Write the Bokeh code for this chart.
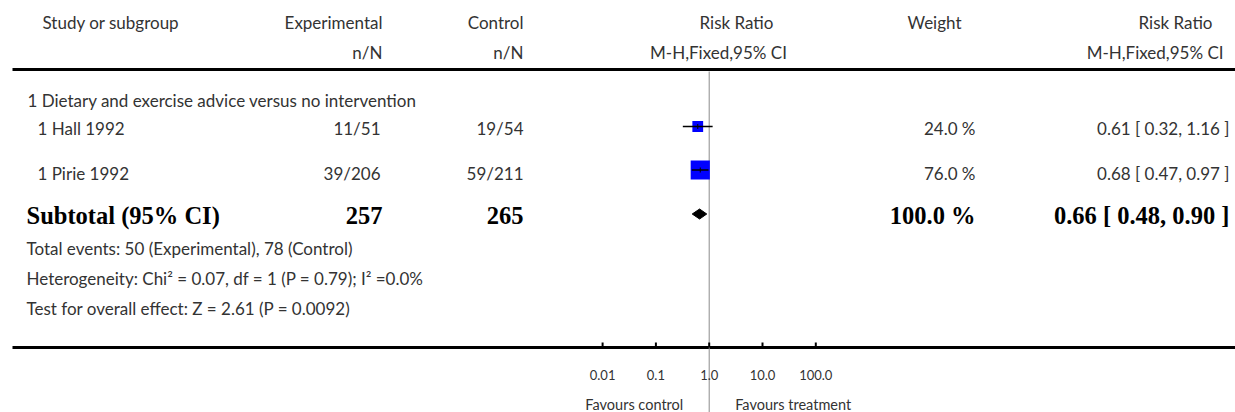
from bokeh.plotting import figure
from bokeh.models import Range1d, LogScale, ColumnDataSource
from bokeh.core.properties import value
from bokeh.embed import file_html
from bokeh.resources import INLINE

# ---------------- data ----------------
subgroup_title = "1 Dietary and exercise advice versus no intervention"
studies = ["1 Hall 1992", "1 Pirie 1992"]
exp_events = [11, 39]
exp_total = [51, 206]
ctrl_events = [19, 59]
ctrl_total = [54, 211]
rr = [0.61, 0.68]
rr_lo = [0.32, 0.47]
rr_hi = [1.16, 0.97]
weights = [24.0, 76.0]

sub_label = "Subtotal (95% CI)"
sub_exp_total = 257
sub_ctrl_total = 265
sub_rr = 0.66
sub_lo = 0.48
sub_hi = 0.90
sub_weight = 100.0

footer_lines = [
    "Total events: 50 (Experimental), 78 (Control)",
    "Heterogeneity: Chi\u00b2 = 0.07, df = 1 (P = 0.79); I\u00b2 =0.0%",
    "Test for overall effect: Z = 2.61 (P = 0.0092)",
]

tick_values = [0.01, 0.1, 1.0, 10.0, 100.0]
tick_labels = ["0.01", "0.1", "1.0", "10.0", "100.0"]
favours_left = "Favours control"
favours_right = "Favours treatment"

# ---------------- layout ----------------
W, H = 1235, 412
REG = value("Lato")
SERIF = value("Liberation Serif")
REG_SIZE = "17px"
BOLD_SIZE = "24.5px"
TXT = "#333333"

PX_PER_DECADE = 53.3
ONE_X = 708.7  # pixel of RR = 1 inside the frame
lo_log = (0 - ONE_X) / PX_PER_DECADE
hi_log = (W - ONE_X) / PX_PER_DECADE

p = figure(width=W, height=H, x_range=Range1d(0, W), y_range=Range1d(H, 0),
           x_axis_location=None, y_axis_location=None, toolbar_location=None,
           output_backend="svg", min_border=0, outline_line_color=None)
p.xgrid.visible = False
p.ygrid.visible = False
p.extra_x_ranges = {"rr": Range1d(10 ** lo_log, 10 ** hi_log)}
p.extra_x_scales = {"rr": LogScale()}


def txt(x, y, s, align="left", font=REG, size=REG_SIZE, style="normal", color=TXT, **kw):
    p.text(x=[x], y=[y], text=[s], text_align=align, text_baseline="middle",
           text_font=font, text_font_size=size, text_font_style=style,
           text_color=color, **kw)


# header
HY1, HY2 = 22, 52
txt(42, HY1, "Study or subgroup")
txt(382, HY1, "Experimental", "right")
txt(382, HY2, "n/N", "right")
txt(523, HY1, "Control", "right")
txt(523, HY2, "n/N", "right")
txt(736, HY1, "Risk Ratio", "center")
txt(718, HY2, "M-H,Fixed,95% CI", "center")
txt(934, HY1, "Weight", "center")
txt(1212, HY1, "Risk Ratio", "right")
txt(1223, HY2, "M-H,Fixed,95% CI", "right")

# rules
TOP_RULE, BOT_RULE = 69, 347
p.segment(x0=[12, 12], x1=[W, W], y0=[TOP_RULE, BOT_RULE], y1=[TOP_RULE, BOT_RULE],
          line_color="black", line_width=3)

# vertical line of no effect
p.segment(x0=[1.0], x1=[1.0], y0=[TOP_RULE + 2], y1=[H], line_color="#8c8c8c",
          line_width=1, x_range_name="rr")

# subgroup title
txt(27, 100, subgroup_title)

# study rows
row_text_y = [128, 173]
row_mark_y = [126, 169.5]
for i, s in enumerate(studies):
    y = row_text_y[i]
    txt(37, y, s)
    txt(380, y, f"{exp_events[i]}/{exp_total[i]}", "right")
    txt(523, y, f"{ctrl_events[i]}/{ctrl_total[i]}", "right")
    txt(975, y, f"{weights[i]:.1f} %", "right")
    txt(1229, y, f"{rr[i]:.2f} [ {rr_lo[i]:.2f}, {rr_hi[i]:.2f} ]", "right")

src = ColumnDataSource(dict(rr=rr, lo=rr_lo, hi=rr_hi, y=row_mark_y,
                            size=[2.2 * (w ** 0.5) for w in weights],
                            y0=[y - 2.5 for y in row_mark_y],
                            y1=[y + 2.5 for y in row_mark_y]))
p.scatter(x="rr", y="y", size="size", marker="square", source=src,
          fill_color="#0000FF", line_color=None, x_range_name="rr")
p.segment(x0="lo", x1="hi", y0="y", y1="y", source=src, line_color="black",
          line_width=1.5, x_range_name="rr")
p.segment(x0="rr", x1="rr", y0="y0", y1="y1", source=src, line_color="black",
          line_width=1, x_range_name="rr")

# subtotal
SY, SDY = 215, 213.5
bold = dict(font=SERIF, size=BOLD_SIZE, style="bold", color="black")
txt(26, SY, sub_label, **bold)
txt(382, SY, f"{sub_exp_total}", "right", **bold)
txt(523, SY, f"{sub_ctrl_total}", "right", **bold)
txt(975, SY, f"{sub_weight:.1f} %", "right", **bold)
txt(1229, SY, f"{sub_rr:.2f} [ {sub_lo:.2f}, {sub_hi:.2f} ]", "right", **bold)
p.patch(x=[sub_lo, sub_rr, sub_hi, sub_rr], y=[SDY, SDY - 5, SDY, SDY + 5],
        fill_color="black", line_color="black", x_range_name="rr")

# footer
for fy, line in zip([248, 278, 308], footer_lines):
    txt(26, fy, line)

# axis ticks & labels
p.segment(x0=tick_values, x1=tick_values, y0=[BOT_RULE - 5] * 5, y1=[BOT_RULE] * 5,
          line_color="black", line_width=2, x_range_name="rr")
p.text(x=tick_values, y=[374] * 5, text=tick_labels, text_align="center",
       text_baseline="middle", text_font=REG, text_font_size="13px",
       text_color=TXT, x_range_name="rr")
txt(1.0, 404, favours_left, "right", size="14.5px", x_offset=-26, x_range_name="rr")
txt(1.0, 404, favours_right, "left", size="14.5px", x_offset=26, x_range_name="rr")

open("out.html", "w").write(file_html(p, INLINE))
